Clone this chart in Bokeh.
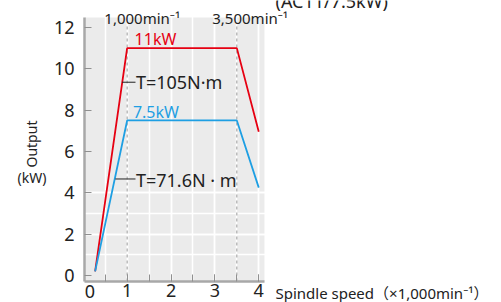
from bokeh.plotting import figure
from bokeh.models import Label, BoxAnnotation, SingleIntervalTicker
from bokeh.embed import file_html
from bokeh.resources import INLINE
import math

# ---- data ----
speed_11kw = [0.27, 1.0, 3.5, 4.0]
output_11kw = [0.2, 11.0, 11.0, 6.95]
speed_7_5kw = [0.27, 1.0, 3.5, 4.0]
output_7_5kw = [0.2, 7.5, 7.5, 4.25]
base_speeds = [1.0, 3.5]
base_speed_labels = ["1,000min\u207b\u00b9", "3,500min\u207b\u00b9"]
series_labels = ["11kW", "7.5kW"]
torque_labels = ["T=105N\u00b7m", "T=71.6N \u00b7 m"]
zero_label = "0"
header_label = "(AC11/7.5kW)"

RED = "#e60012"
BLUE = "#1e9fe3"
INK = "#222222"
FONT = "Noto Sans"

# plot-area limits (data units)
X0, X1 = 0.027, 4.13
Y0, Y1 = -0.29, 12.48

p = figure(width=501, height=302, output_backend="svg", toolbar_location=None,
           x_range=(-1.887, 9.533), y_range=(-1.306, 13.304),
           min_border_left=0, min_border_right=0, min_border_top=0, min_border_bottom=0)
p.background_fill_color = "white"
p.border_fill_color = "white"
p.outline_line_color = None

bg = BoxAnnotation(left=X0, right=X1, bottom=Y0, top=Y1, fill_color="#ebebeb",
                   fill_alpha=1, line_color=None, level="underlay")
p.center = [bg] + list(p.center)

# grids / tickers
p.xaxis.ticker = SingleIntervalTicker(interval=1, num_minor_ticks=2)
p.yaxis.ticker = SingleIntervalTicker(interval=2, num_minor_ticks=2)
p.xgrid.bounds = (Y0, Y1)
p.ygrid.bounds = (X0, X1)
for g in (p.xgrid, p.ygrid):
    g.grid_line_color = "white"
    g.grid_line_width = 1.5
    g.minor_grid_line_color = "white"
    g.minor_grid_line_width = 1.5

# axes, placed at the plot-area edges
p.xaxis.fixed_location = Y0
p.yaxis.fixed_location = X0
p.xaxis.bounds = (X0, X1)
p.yaxis.bounds = (Y0, Y1)
for ax in (p.xaxis, p.yaxis):
    ax.axis_line_color = "#a8a8a8"
    ax.axis_line_width = 2.5
    ax.major_tick_line_color = "#909090"
    ax.major_tick_in = 7
    ax.major_tick_out = 0
    ax.major_label_text_font_size = "18px"
    ax.major_label_text_font = FONT
    ax.major_label_text_color = INK
p.yaxis.minor_tick_line_color = None
p.xaxis.minor_tick_line_color = "#909090"
p.xaxis.minor_tick_in = 7
p.xaxis.minor_tick_out = 0
p.xaxis.major_label_standoff = 3
p.yaxis.major_label_standoff = 6

# base speed dashed lines
p.segment(x0=base_speeds, y0=[Y0] * len(base_speeds), x1=base_speeds,
          y1=[12.14] * len(base_speeds), line_color="#9a9a9a", line_dash="3 3", line_width=1)

# series
p.line(speed_11kw, output_11kw, line_color=RED, line_width=1.8)
p.line(speed_7_5kw, output_7_5kw, line_color=BLUE, line_width=1.8)

# leader lines
p.line([0.884, 1.19], [9.35, 9.35], line_color=INK, line_width=1)
p.line([0.73, 1.19], [4.67, 4.67], line_color=INK, line_width=1)

def lab(x, y, t, size, color=INK, align="left", baseline="middle", angle=0.0, font=FONT):
    p.add_layout(Label(x=x, y=y, text=t, text_font=font, text_font_size=size,
                       text_color=color, text_align=align, text_baseline=baseline,
                       angle=angle))

# header fragment (cut at the top edge, as in the source)
lab(4.381, 13.28, header_label, "18px", baseline="alphabetic")
# series labels
lab(1.645, 11.42, series_labels[0], "16px", RED, "center")
lab(1.655, 7.89, series_labels[1], "16px", BLUE, "center")
# torque labels
lab(1.20, 9.35, torque_labels[0], "18px")
lab(1.20, 4.64, torque_labels[1], "18px")
# base speed labels
lab(0.48, 12.46, base_speed_labels[0], "15px")
lab(2.94, 12.46, base_speed_labels[1], "15px")

# x tick label at origin (offset right of the corner)
lab(0.15, -0.47, zero_label, "18px", align="center", baseline="top")

# axis titles
lab(4.38, -0.84, "Spindle speed\uff08\u00d71,000min\u207b\u00b9\uff09", "15px",
    font="'Noto Sans', 'Noto Sans CJK JP'")
lab(-1.19, 6.36, "Output", "14px", align="center", angle=math.pi / 2)
lab(-1.17, 4.74, "(kW)", "14px", align="center")

open("out.html", "w").write(file_html(p, INLINE))
